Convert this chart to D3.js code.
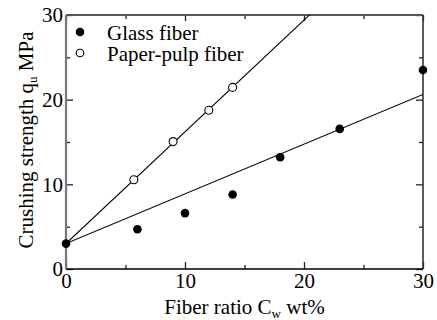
<!DOCTYPE html>
<html lang="en">
<head>
<meta charset="utf-8">
<title>Crushing strength vs fiber ratio</title>
<style>
body { margin: 0; background: #fff; }
svg text { font-family: "Liberation Serif", "DejaVu Serif", serif; fill: #000; }
.tickText text { font-size: 21px; }
.axisTitle { font-size: 21px; }
.legendText { font-size: 21px; }
</style>
</head>
<body>
<div id="chart"></div>
<script src="https://d3js.org/d3.v7.min.js"></script>
<script>
// data
var glassX = [0, 6, 10, 14, 18, 23, 30];
var glassY = [3.0, 4.7, 6.6, 8.8, 13.2, 16.55, 23.5];
var paperX = [5.7, 9, 12, 14];
var paperY = [10.55, 15.05, 18.75, 21.45];
// fitted lines: [intercept, slope]
var glassFit = [3.0, 0.587];
var paperFit = [3.0, 1.32];
var majorTicks = [0, 10, 20, 30];
var minorTicks = [5, 15, 25];
var legendLabels = ['Glass fiber', 'Paper-pulp fiber'];

var W = 437, H = 320;
var margin = { top: 15, right: 14, bottom: 51, left: 66 };
var width = W - margin.left - margin.right;
var height = H - margin.top - margin.bottom;
var serif = '"Liberation Serif", "DejaVu Serif", serif';

var x = d3.scaleLinear().domain([0, 30]).range([0, width]);
var y = d3.scaleLinear().domain([0, 30]).range([height, 0]);

var svg = d3.select('#chart').append('svg')
  .attr('width', W).attr('height', H);
var graph = svg.append('g')
  .attr('transform', 'translate(' + margin.left + ',' + margin.top + ')');

svg.append('defs').append('clipPath').attr('id', 'plotClip')
  .append('rect').attr('width', width).attr('height', height);

// inward ticks on all four sides
function addTicks(axisFn, scale, vals, size, tr) {
  var g = graph.append('g')
    .attr('transform', tr)
    .call(axisFn(scale).tickValues(vals).tickSize(-size).tickFormat(''));
  g.select('.domain').remove();
  g.selectAll('line').attr('stroke', '#222').attr('stroke-width', 1.3);
  return g;
}
addTicks(d3.axisBottom, x, majorTicks, 7, 'translate(0,' + height + ')');
addTicks(d3.axisBottom, x, minorTicks, 4, 'translate(0,' + height + ')');
addTicks(d3.axisTop, x, majorTicks, 6, 'translate(0,0)');
addTicks(d3.axisTop, x, minorTicks, 4, 'translate(0,0)');
addTicks(d3.axisLeft, y, majorTicks, 7, 'translate(0,0)');
addTicks(d3.axisLeft, y, minorTicks, 4, 'translate(0,0)');
addTicks(d3.axisRight, y, majorTicks, 7, 'translate(' + width + ',0)');
addTicks(d3.axisRight, y, minorTicks, 4, 'translate(' + width + ',0)');

// frame
graph.append('line').attr('x1', 0).attr('x2', width).attr('y1', 0).attr('y2', 0)
  .attr('stroke', '#555').attr('stroke-width', 2);
graph.append('line').attr('x1', width).attr('x2', width).attr('y1', 0).attr('y2', height)
  .attr('stroke', '#333').attr('stroke-width', 1.6);
graph.append('line').attr('x1', 0).attr('x2', width).attr('y1', height).attr('y2', height)
  .attr('stroke', '#000').attr('stroke-width', 1.6);
graph.append('line').attr('x1', 0).attr('x2', 0).attr('y1', 0).attr('y2', height)
  .attr('stroke', '#777').attr('stroke-width', 2.2);

// tick labels
var xl = graph.append('g').attr('class', 'tickText')
  .attr('transform', 'translate(0,' + height + ')')
  .call(d3.axisBottom(x).tickValues(majorTicks).tickSize(0).tickPadding(4));
xl.attr('font-family', serif).attr('font-size', 21);
xl.select('.domain').remove();
xl.selectAll('text').attr('dy', '0.71em');
var yl = graph.append('g').attr('class', 'tickText')
  .call(d3.axisLeft(y).tickValues(majorTicks).tickSize(0).tickPadding(3));
yl.attr('font-family', serif).attr('font-size', 21);
yl.select('.domain').remove();

// fitted lines
var plot = graph.append('g').attr('clip-path', 'url(#plotClip)');
[glassFit, paperFit].forEach(function(f) {
  plot.append('line')
    .attr('x1', x(0)).attr('y1', y(f[0]))
    .attr('x2', x(30)).attr('y2', y(f[0] + f[1] * 30))
    .attr('stroke', '#000').attr('stroke-width', 1.1);
});

// points
graph.selectAll('.glass').data(glassX).enter().append('circle')
  .attr('class', 'glass')
  .attr('cx', function(d) { return x(d); })
  .attr('cy', function(d, i) { return y(glassY[i]); })
  .attr('r', 4.3).attr('fill', '#000');
graph.selectAll('.paper').data(paperX).enter().append('circle')
  .attr('class', 'paper')
  .attr('cx', function(d) { return x(d); })
  .attr('cy', function(d, i) { return y(paperY[i]); })
  .attr('r', 4).attr('fill', '#fff').attr('stroke', '#000').attr('stroke-width', 1.1);

// legend
var leg = graph.append('g');
legendLabels.forEach(function(lab, i) {
  var cy = 17 + i * 21;
  leg.append('circle').attr('cx', 14).attr('cy', cy).attr('r', i ? 3.8 : 4.3)
    .attr('fill', i ? '#fff' : '#000')
    .attr('stroke', '#000').attr('stroke-width', i ? 1.1 : 0);
  leg.append('text').attr('class', 'legendText')
    .attr('x', 41).attr('y', cy + 8).text(lab);
});

// axis titles
var xt = svg.append('text').attr('class', 'axisTitle')
  .attr('text-anchor', 'middle')
  .attr('x', margin.left + width / 2).attr('y', 314);
xt.append('tspan').text('Fiber ratio C');
xt.append('tspan').attr('font-size', '13px').attr('dy', 4).text('w');
xt.append('tspan').attr('dy', -4).text(' wt%');

var yt = svg.append('text').attr('class', 'axisTitle')
  .attr('text-anchor', 'middle')
  .attr('transform', 'translate(33,' + (margin.top + height / 2 - 2) + ') rotate(-90)');
yt.append('tspan').text('Crushing strength q');
yt.append('tspan').attr('font-size', '13px').attr('dy', 4).text('u');
yt.append('tspan').attr('dy', -4).text(' MPa');
</script>
</body>
</html>
